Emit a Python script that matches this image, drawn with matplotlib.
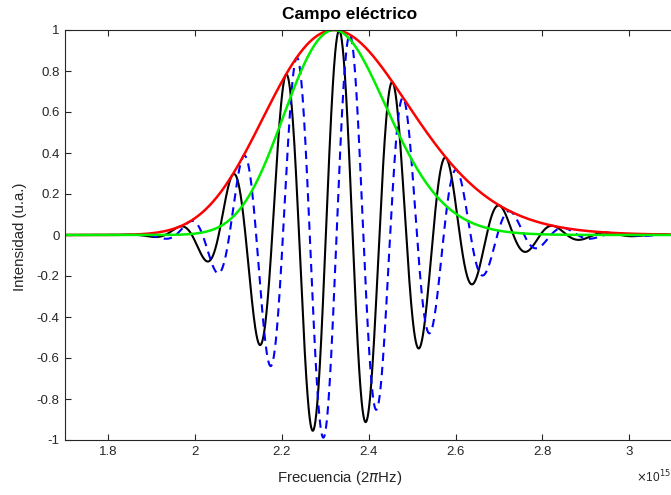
import numpy as np
import matplotlib.pyplot as plt

plt.rcParams['font.family'] = ['Liberation Sans', 'DejaVu Sans']
plt.rcParams['axes.unicode_minus'] = False

# Values (frequency in units of 1e15 2*pi*Hz)
freq_range = [1.7, 3.1]
peak_freq = 2.32          # centre of the envelope
inv_width = 0.0309        # gaussian width in 1/frequency
fringe_period = 0.1235    # spacing between black maxima
fringe_centre = 2.332     # black central maximum
blue_shift = 0.4 * np.pi  # phase lag of the dashed curve

xticks = [1.8, 2.0, 2.2, 2.4, 2.6, 2.8, 3.0]
yticks = [-1, -0.8, -0.6, -0.4, -0.2, 0, 0.2, 0.4, 0.6, 0.8, 1]

w = np.linspace(freq_range[0], freq_range[1], 2000)
envelope = np.exp(-(1 / w - 1 / peak_freq) ** 2 / (2 * inv_width ** 2))
intensity = envelope ** 2
phase = 2 * np.pi * (w - fringe_centre) / fringe_period
field_a = envelope * np.cos(phase)
field_b = envelope * np.cos(phase - blue_shift)

fig = plt.figure(figsize=(6.71, 4.95), dpi=100)
ax = fig.add_axes([65 / 671, 1 - 440 / 495, 607.5 / 671, 410 / 495])

ax.plot(w, field_a, color='black', lw=1.5)
ax.plot(w, field_b, color='#0000ff', lw=1.5, linestyle=(0, (4, 2.8)))
ax.plot(w, envelope, color='#ff0000', lw=1.8)
ax.plot(w, intensity, color='#00ee00', lw=1.8)

ax.set_xlim(freq_range)
ax.set_ylim(-1, 1)
ax.set_xticks(xticks)
ax.set_yticks(yticks)
ax.set_xticklabels(['%g' % t for t in xticks])
ax.set_yticklabels(['%g' % t for t in yticks])
ax.tick_params(direction='in', length=4, width=0.8, colors='#262626',
               labelsize=9.5, top=True, right=False)
ax.tick_params(axis='x', pad=4.5)
ax.tick_params(axis='y', pad=4)
for s in ax.spines.values():
    s.set_color('#262626')
    s.set_linewidth(0.8)
# the right border lies just outside the picture
ax.spines['right'].set_visible(False)

fig.text(350 / 671, 1 - 14 / 495, 'Campo eléctrico', ha='center', va='center',
         fontsize=12.5, fontweight='bold')
fig.text(340 / 671, 1 - 478 / 495, r'Frecuencia (2$\pi$Hz)', ha='center',
         va='center', fontsize=10.8, color='#262626')
fig.text(20 / 671, 1 - 237 / 495, 'Intensidad (u.a.)', ha='center', va='center',
         rotation=90, fontsize=10.8, color='#262626')
fig.text(636 / 671, 1 - 477 / 495, r'$\times$10$^{15}$', ha='left', va='center',
         fontsize=8.5, color='#262626')

fig.savefig('out.png', dpi=100)
